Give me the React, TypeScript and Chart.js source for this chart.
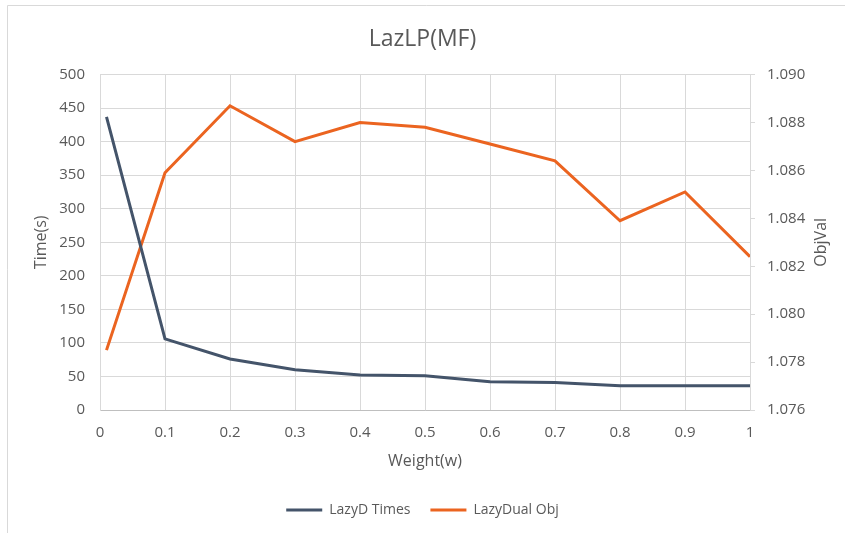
import React, { useEffect, useRef } from "react";
import { Chart, registerables } from "chart.js";

Chart.register(...registerables);

const titleText = "LazLP(MF)";
const weights = [0.01, 0.1, 0.2, 0.3, 0.4, 0.5, 0.6, 0.7, 0.8, 0.9, 1];
const lazyDTimes = [437, 106, 76, 60, 52, 51, 42, 41, 36, 36, 36];
const lazyDualObj = [1.0785, 1.0859, 1.0887, 1.0872, 1.088, 1.0878, 1.0871, 1.0864, 1.0839, 1.0851, 1.0824];
const seriesNames = ["LazyD Times", "LazyDual Obj"];
const xTitle = "Weight(w)";
const yTitle = "Time(s)";
const y1Title = "ObjVal";

const FONT = "'Open Sans', sans-serif";
const TXT = "#595959";
const GRID = "#d9d9d9";
const C_TIMES = "#44546A";
const C_OBJ = "#EB6420";

const framePlugin = {
  id: "frame",
  beforeDraw(chart: any) {
    const { ctx } = chart;
    ctx.save();
    ctx.fillStyle = "#ffffff";
    ctx.fillRect(0, 0, chart.width, chart.height);
    ctx.strokeStyle = "#d9d9d9";
    ctx.lineWidth = 1;
    ctx.beginPath();
    ctx.moveTo(7.5, chart.height);
    ctx.lineTo(7.5, 5.5);
    ctx.lineTo(chart.width, 5.5);
    ctx.stroke();
    ctx.restore();
  },
};

const rightTitlePlugin = {
  id: "rightTitle",
  afterDraw(chart: any) {
    const { ctx, chartArea } = chart;
    ctx.save();
    ctx.fillStyle = TXT;
    ctx.font = `16px ${FONT}`;
    ctx.textAlign = "center";
    ctx.textBaseline = "middle";
    ctx.translate(chart.width - 24, (chartArea.top + chartArea.bottom) / 2);
    ctx.rotate(-Math.PI / 2);
    ctx.fillText(y1Title, 0, 0);
    ctx.restore();
  },
};

export default function App() {
  const ref = useRef<HTMLCanvasElement>(null);
  useEffect(() => {
    if (!ref.current) return;
    const chart = new Chart(ref.current, {
      type: "line",
      data: {
        datasets: [
          {
            label: seriesNames[0],
            data: weights.map((w, i) => ({ x: w, y: lazyDTimes[i] })),
            borderColor: C_TIMES,
            backgroundColor: C_TIMES,
            borderWidth: 3,
            pointRadius: 0,
            yAxisID: "y",
          },
          {
            label: seriesNames[1],
            data: weights.map((w, i) => ({ x: w, y: lazyDualObj[i] })),
            borderColor: C_OBJ,
            backgroundColor: C_OBJ,
            borderWidth: 3,
            pointRadius: 0,
            yAxisID: "y1",
          },
        ],
      },
      options: {
        responsive: false,
        animation: false,
        layout: { padding: { left: 0, right: 0, top: 0, bottom: 6 } },
        plugins: {
          title: {
            display: true,
            text: titleText,
            color: TXT,
            font: { family: FONT, size: 23, weight: "normal" },
            padding: { top: 26, bottom: 21 },
          },
          legend: {
            position: "bottom",
            labels: {
              color: TXT,
              font: { family: FONT, size: 14 },
              boxWidth: 36,
              boxHeight: 3,
              padding: 20,
              generateLabels: (c: any) =>
                (Chart as any).defaults.plugins.legend.labels
                  .generateLabels(c)
                  .map((l: any) => ({ ...l, lineWidth: 0 })),
            },
          },
          tooltip: { enabled: false },
        },
        scales: {
          x: {
            type: "linear",
            min: 0,
            max: 1,
            ticks: {
              stepSize: 0.1,
              color: TXT,
              font: { family: FONT, size: 15 },
              padding: 14,
              maxRotation: 0,
              callback: (v: any) => String(Number(Number(v).toFixed(1))),
            },
            grid: { color: GRID, drawTicks: false },
            border: { color: "#bfbfbf" },
            title: {
              display: true,
              text: xTitle,
              color: TXT,
              font: { family: FONT, size: 16 },
              padding: { top: 0, bottom: 12 },
            },
            afterFit: (s: any) => {
              s.height = 73;
            },
          },
          y: {
            position: "left",
            min: 0,
            max: 500,
            ticks: {
              stepSize: 50,
              color: TXT,
              font: { family: FONT, size: 15 },
              padding: 15,
            },
            grid: { color: GRID, drawTicks: false },
            border: { color: GRID },
            title: {
              display: true,
              text: yTitle,
              color: TXT,
              font: { family: FONT, size: 16 },
              padding: { top: 32, bottom: 0 },
            },
            afterFit: (s: any) => {
              s.width = 100;
            },
          },
          y1: {
            position: "right",
            min: 1.076,
            max: 1.09,
            ticks: {
              stepSize: 0.002,
              color: TXT,
              font: { family: FONT, size: 15 },
              padding: 12,
              callback: (v: any) => Number(v).toFixed(3),
            },
            grid: { drawOnChartArea: false, drawTicks: true, tickLength: 5, color: GRID },
            border: { color: GRID },
            afterFit: (s: any) => {
              s.width = 95;
            },
          },
        },
      },
      plugins: [framePlugin, rightTitlePlugin],
    } as any);
    return () => chart.destroy();
  }, []);
  return (
    <div style={{ position: "fixed", left: 0, top: 0, width: 845, height: 533 }}>
      <canvas ref={ref} width={845} height={533} style={{ display: "block" }} />
    </div>
  );
}
